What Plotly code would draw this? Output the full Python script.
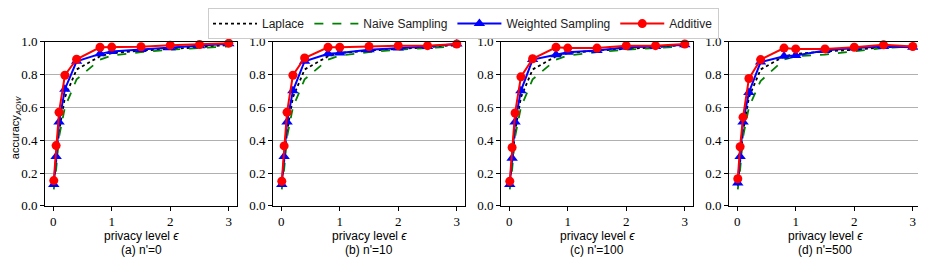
import plotly.graph_objects as go

eps = [0.01, 0.05, 0.1, 0.2, 0.4, 0.8, 1.0, 1.5, 2.0, 2.5, 3.0]
x_ticks = [0, 1, 2, 3]
y_ticks = [0.0, 0.2, 0.4, 0.6, 0.8, 1.0]
y_tick_labels = ["0.0", "0.2", "0.4", "0.6", "0.8", "1.0"]

panel_titles = ["(a) n'=0", "(b) n'=10", "(c) n'=100", "(d) n'=500"]

laplace = [
    [0.12, 0.26, 0.45, 0.66, 0.83, 0.91, 0.93, 0.945, 0.955, 0.965, 0.98],
    [0.12, 0.26, 0.45, 0.66, 0.83, 0.91, 0.93, 0.945, 0.955, 0.965, 0.98],
    [0.12, 0.26, 0.45, 0.66, 0.83, 0.91, 0.93, 0.945, 0.955, 0.965, 0.98],
    [0.12, 0.26, 0.45, 0.66, 0.83, 0.91, 0.925, 0.94, 0.95, 0.965, 0.97],
]
naive = [
    [0.10, 0.22, 0.42, 0.60, 0.77, 0.89, 0.915, 0.935, 0.95, 0.96, 0.97],
    [0.10, 0.22, 0.42, 0.60, 0.77, 0.89, 0.915, 0.935, 0.95, 0.96, 0.97],
    [0.10, 0.22, 0.42, 0.60, 0.77, 0.89, 0.915, 0.935, 0.95, 0.96, 0.97],
    [0.10, 0.22, 0.42, 0.60, 0.76, 0.89, 0.91, 0.92, 0.94, 0.96, 0.97],
]
weighted = [
    [0.13, 0.30, 0.51, 0.71, 0.88, 0.925, 0.94, 0.952, 0.962, 0.974, 0.986],
    [0.13, 0.30, 0.51, 0.70, 0.88, 0.925, 0.93, 0.95, 0.96, 0.97, 0.985],
    [0.13, 0.29, 0.51, 0.70, 0.89, 0.92, 0.935, 0.945, 0.965, 0.97, 0.98],
    [0.14, 0.30, 0.51, 0.69, 0.875, 0.91, 0.915, 0.945, 0.96, 0.97, 0.965],
]
additive = [
    [0.154, 0.367, 0.57, 0.795, 0.892, 0.965, 0.966, 0.968, 0.978, 0.982, 0.99],
    [0.15, 0.365, 0.57, 0.795, 0.90, 0.965, 0.965, 0.97, 0.975, 0.975, 0.985],
    [0.15, 0.355, 0.565, 0.785, 0.895, 0.965, 0.96, 0.96, 0.975, 0.975, 0.985],
    [0.165, 0.36, 0.54, 0.775, 0.89, 0.96, 0.955, 0.955, 0.965, 0.98, 0.97],
]

# The page body has an 8px margin, so the figure is offset by (8, 8).
OFF = 8
W, H = 926 - OFF, 262 - OFF
panel_px = [(45, 237), (273, 465), (501, 693), (729, 921)]
y_top_px, y_bot_px = 38, 205


def px_x(x):
    return (x - OFF) / W


def px_y(y):
    return 1 - (y - OFF) / H


fig = go.Figure()

series = [
    ("Laplace", laplace, dict(color="black", width=1.8, dash="dot"), None),
    ("Naive Sampling", naive, dict(color="green", width=1.8, dash="dash"), None),
    ("Weighted Sampling", weighted, dict(color="blue", width=2), dict(symbol="triangle-up", size=10, color="blue")),
    ("Additive", additive, dict(color="red", width=2), dict(symbol="circle", size=9, color="red")),
]

for p in range(4):
    suffix = "" if p == 0 else str(p + 1)
    for name, data, line, marker in series:
        kw = dict(
            x=eps, y=data[p], name=name, line=line,
            xaxis="x" + suffix, yaxis="y" + suffix,
            legendgroup=name, showlegend=(p == 0),
            mode="lines+markers" if marker else "lines",
            cliponaxis=False,
        )
        if marker:
            kw["marker"] = marker
        fig.add_trace(go.Scatter(**kw))

layout = dict(
    template="none",
    width=W, height=H,
    margin=dict(l=0, r=0, t=0, b=0, pad=0),
    paper_bgcolor="white", plot_bgcolor="white",
    font=dict(family="Liberation Sans", size=11, color="black"),
    showlegend=True,
    legend=dict(
        orientation="h", x=px_x(463.5), xanchor="center", y=px_y(4), yanchor="top",
        bordercolor="#cccccc", borderwidth=1, bgcolor="white",
        font=dict(family="Liberation Sans", size=12, color="#222"),
        itemwidth=44,
    ),
    annotations=[],
)

ydom = [px_y(y_bot_px), px_y(y_top_px)]
for p, (l, r) in enumerate(panel_px):
    suffix = "" if p == 0 else str(p + 1)
    layout["xaxis" + suffix] = dict(
        domain=[px_x(l), px_x(r)], range=[-0.14, 3.14], anchor="y" + suffix,
        tickvals=x_ticks, ticktext=[str(v) for v in x_ticks],
        ticks="outside", ticklen=4, tickcolor="black", tickwidth=1,
        showline=True, linecolor="black", linewidth=1, mirror=True,
        showgrid=False, zeroline=False, automargin=False,
        tickfont=dict(family="Liberation Serif", size=13),
    )
    layout["yaxis" + suffix] = dict(
        domain=ydom, range=[0, 1], anchor="x" + suffix,
        tickvals=y_ticks, ticktext=y_tick_labels,
        ticks="outside", ticklen=4, tickcolor="black", tickwidth=1,
        showline=True, linecolor="black", linewidth=1, mirror=True,
        showgrid=True, gridcolor="#b0b0b0", gridwidth=1, zeroline=False,
        automargin=False,
        tickfont=dict(family="Liberation Serif", size=13),
    )
    cx = px_x((l + r) / 2)
    layout["annotations"].append(dict(
        text="privacy level <i>ϵ</i>", x=cx, y=px_y(236), xref="paper", yref="paper",
        showarrow=False, xanchor="center", yanchor="middle",
        font=dict(family="Liberation Sans", size=12)))
    layout["annotations"].append(dict(
        text=panel_titles[p], x=cx, y=px_y(250), xref="paper", yref="paper",
        showarrow=False, xanchor="center", yanchor="middle",
        font=dict(family="Liberation Sans", size=12)))

layout["annotations"].append(dict(
    text="accuracy<sub><i>AOW</i></sub>", x=px_x(16), y=px_y(126), xref="paper", yref="paper",
    showarrow=False, textangle=-90, xanchor="center", yanchor="middle",
    font=dict(family="Liberation Sans", size=11)))

fig.update_layout(**layout)
fig.write_html("out.html")
